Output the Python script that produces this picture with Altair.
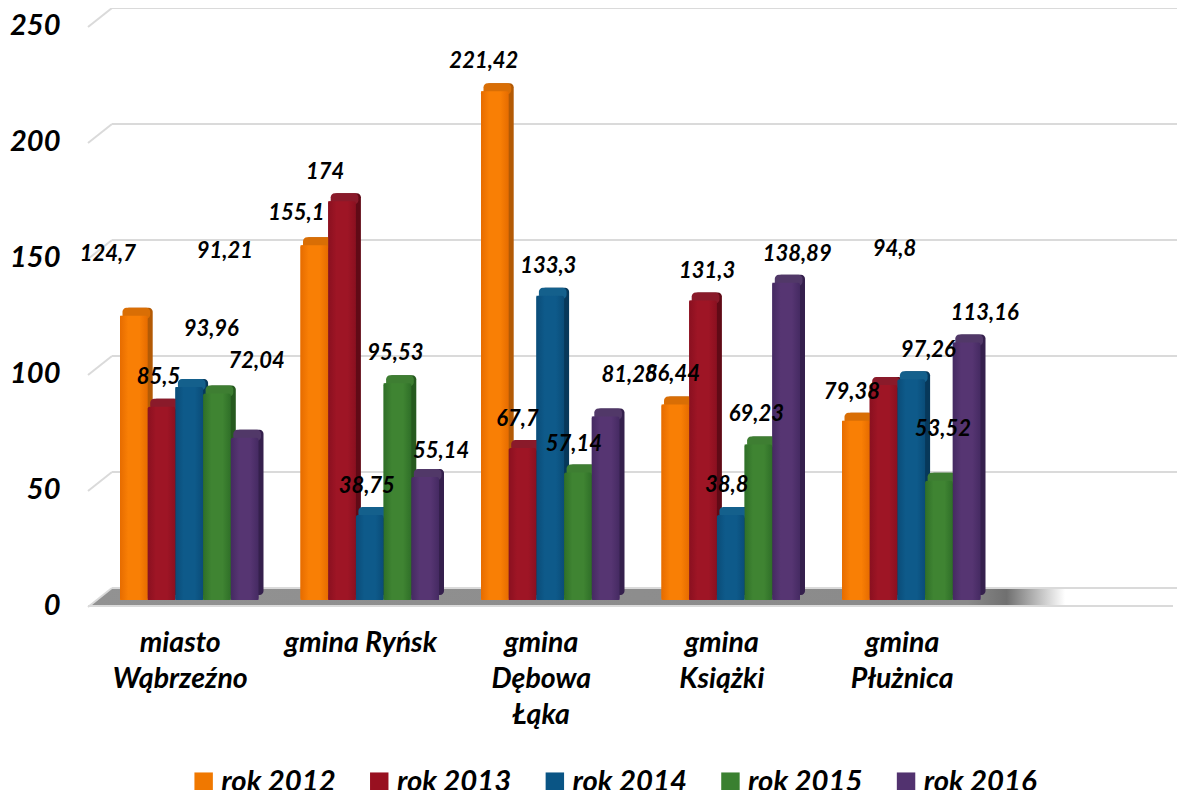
import altair as alt
import pandas as pd

categories = ["miasto Wąbrzeźno", "gmina Ryńsk", "gmina Dębowa Łąka", "gmina Książki", "gmina Płużnica"]
series = ["rok 2012", "rok 2013", "rok 2014", "rok 2015", "rok 2016"]
v2012 = [124.7, 155.1, 221.42, 86.44, 79.38]
v2013 = [85.5, 174, 67.7, 131.3, 94.8]
v2014 = [93.96, 38.75, 133.3, 38.8, 97.26]
v2015 = [91.21, 95.53, 57.14, 69.23, 53.52]
v2016 = [72.04, 55.14, 81.25, 138.89, 113.16]
labels_2012 = ["124,7", "155,1", "221,42", "86,44", "79,38"]
labels_2013 = ["85,5", "174", "67,7", "131,3", "94,8"]
labels_2014 = ["93,96", "38,75", "133,3", "38,8", "97,26"]
labels_2015 = ["91,21", "95,53", "57,14", "69,23", "53,52"]
labels_2016 = ["72,04", "55,14", "81,25", "138,89", "113,16"]
grid_values = [0, 50, 100, 150, 200, 250]

values = [v2012, v2013, v2014, v2015, v2016]
labels = [labels_2012, labels_2013, labels_2014, labels_2015, labels_2016]

# hand-placed label displacement (dx, dy) of the source chart, by series then category
nudges = [
    [(-26, -57), (-18, -27), (-11, -25), (-3, -25), (-4, -24)],
    [(-3, -25), (-17, -24), (-5, -24), (4, -24), (11, -131)],
    [(22, -53), (-3, -24), (-2, -25), (-4, -25), (17, -24)],
    [(8, -137), (-2, -25), (-4, -23), (-2, -25), (4, -47)],
    [(12, -72), (16, -21), (24, -37), (11, -24), (18, -24)],
]

front_left = ["#E66C00", "#8A1020", "#0A4C78", "#2F6F28", "#452A62"]
front_mid = ["#F97F05", "#9E1525", "#0E5A8A", "#3F8432", "#563572"]
solid = ["#F07800", "#981020", "#0A5585", "#3A8030", "#52326F"]
side = ["#B35A05", "#600A16", "#07385A", "#265A1F", "#35204D"]
cap = ["#D96E05", "#8A1A2A", "#14608C", "#3E7E32", "#513868"]

FONT = "Lato"


def gradient(stops, horizontal):
    return alt.LinearGradient(
        gradient="linear",
        x1=0, y1=0,
        x2=1 if horizontal else 0,
        y2=0 if horizontal else 1,
        stops=[alt.GradientStop(color=c, offset=o) for c, o in stops],
    )


rows = []
for s, name in enumerate(series):
    for c, cat in enumerate(categories):
        rows.append({"cat": cat, "series": name, "value": values[s][c], "label": labels[s][c]})
df = pd.DataFrame(rows)

y_scale = alt.Scale(domain=[0, 250], range=[592, 12], nice=False)
x_scale = alt.Scale(domain=categories, range=[82, 82 + 5 * 180.5], paddingInner=0, paddingOuter=0)


def off(shift=0):
    return alt.XOffset("series:N", sort=series,
                       scale=alt.Scale(domain=series, range=[30 + shift, 168.5 + shift],
                                       paddingInner=0, paddingOuter=0))


# text marks sit on a point scale: its range runs from the first bar's middle to the last one's
text_off = alt.XOffset("series:N", sort=series, scale=alt.Scale(domain=series, range=[43.85, 154.65], padding=0))

x_axis = alt.Axis(
    orient="bottom", offset=-162, domain=False, ticks=False, grid=False, title=None,
    labelAngle=0, labelAlign="center", labelBaseline="top", labelFont=FONT,
    labelFontStyle="italic", labelFontWeight="bold", labelFontSize=28.5, labelColor="#000000",
    labelLineHeight=36, labelPadding=0, labelLimit=0, labelOverlap=False,
    labelExpr="datum.label == 'gmina Ryńsk' ? datum.label : split(datum.label, ' ')",
)
y_axis = alt.Axis(
    values=grid_values, offset=-52, domain=False, ticks=False, grid=False, title=None,
    labelAlign="right", labelFont=FONT, labelFontStyle="italic", labelFontWeight="bold",
    labelFontSize=29, labelColor="#000000", labelPadding=0, labelOffset=5.5, labelOverlap=False,
    labelBound=False, labelFlush=False,
)
x_enc = alt.X("cat:N", scale=x_scale, sort=categories, axis=x_axis)
y_enc = alt.Y("value:Q", scale=y_scale, axis=y_axis)

# floor of the 3-D plot
floor = pd.DataFrame({"px": [84, 104, 1057], "top": [-2.2, 4.7, 4.7], "bottom": [-2.2, -2.2, -2.2]})
floor_layer = alt.Chart(floor).mark_area(
    color=gradient([("#929292", 0), ("#8A8A8A", 0.9), ("#707070", 0.94), ("#FFFFFF", 1)], True)
).encode(
    x=alt.X("px:Q", scale=alt.Scale(domain=[0, 1169], range=[0, 1169]), axis=None),
    y=alt.Y("top:Q", scale=y_scale, axis=y_axis),
    y2="bottom:Q",
)

grid_df = pd.DataFrame({"g": grid_values})
grid_back = alt.Chart(grid_df).mark_rule(color="#DADADA", strokeWidth=2, yOffset=-12).encode(
    x=alt.value(104), x2=alt.value(1169), y=alt.Y("g:Q", scale=y_scale, axis=y_axis)
)
grid_diag = alt.Chart(grid_df).mark_rule(color="#DADADA", strokeWidth=2, yOffset=7, y2Offset=-12).encode(
    x=alt.value(80), x2=alt.value(104), y=alt.Y("g:Q", scale=y_scale, axis=y_axis), y2="g:Q"
)
grid_front = alt.Chart(pd.DataFrame({"g": [0]})).mark_rule(color="#DADADA", strokeWidth=2, yOffset=6).encode(
    x=alt.value(80), x2=alt.value(1165), y=alt.Y("g:Q", scale=y_scale, axis=y_axis)
)

# plain grouped bars: carry the real legend, hidden under the shaded faces
base = alt.Chart(df).mark_bar(yOffset=5).encode(
    x=x_enc,
    xOffset=off(),
    y=y_enc,
    y2=alt.Y2Datum(0),
    color=alt.Color("series:N", sort=series, scale=alt.Scale(domain=series, range=solid), legend=alt.Legend(
        title=None, orient="none", legendX=181, legendY=759, direction="horizontal", columns=5,
        symbolType="square", symbolSize=340, symbolOpacity=1, symbolStrokeWidth=0,
        labelFont=FONT, labelFontStyle="italic", labelFontWeight="bold", labelFontSize=29.3,
        labelColor="#000000", labelOffset=3, columnPadding=28.6, labelLimit=0,
    )),
)

bar_layers = []
for s, name in enumerate(series):
    d = df[df.series == name]
    bar_layers.append(alt.Chart(d).mark_bar(color=side[s], yOffset=-3, y2Offset=-5, cornerRadius=4)
                      .encode(x=x_enc, xOffset=off(5), y=y_enc, y2=alt.Y2Datum(0)))
    bar_layers.append(alt.Chart(d).mark_bar(color=cap[s], yOffset=-3, y2Offset=8, cornerRadius=4)
                      .encode(x=x_enc, xOffset=off(2.5), y=y_enc, y2="value:Q"))
    bar_layers.append(alt.Chart(d).mark_bar(
        color=gradient([(front_left[s], 0), (front_mid[s], 0.3), (front_mid[s], 0.7), (front_left[s], 1)], True),
        yOffset=5, cornerRadius=2,
    ).encode(x=x_enc, xOffset=off(), y=y_enc, y2=alt.Y2Datum(0)))

label_layers = []
for s, name in enumerate(series):
    for c, cat in enumerate(categories):
        d = df[(df.series == name) & (df.cat == cat)]
        dx, dy = nudges[s][c]
        label_layers.append(alt.Chart(d).mark_text(
            font=FONT, fontStyle="italic", fontWeight="bold", fontSize=22, color="#000000",
            align="center", baseline="middle", dx=dx, dy=dy,
        ).encode(x=x_enc, xOffset=text_off, y=y_enc, text="label:N"))

marks = alt.layer(base, *bar_layers, *label_layers).resolve_scale(xOffset="independent")
chart = alt.layer(grid_back, grid_diag, grid_front, floor_layer, marks).resolve_scale(x="independent").properties(
    width=1169, height=782, padding=0, autosize=alt.AutoSizeParams(type="none"),
    background="#FFFFFF",
).configure_view(stroke=None)

chart.save("out.html", embed_options={"renderer": "svg", "actions": False})
